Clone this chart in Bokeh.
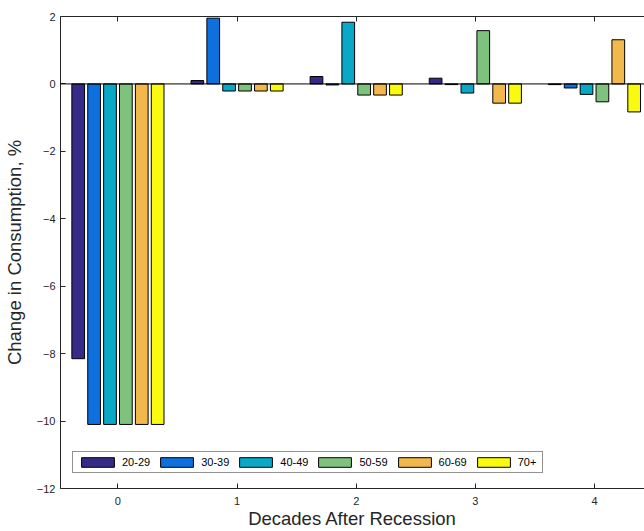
import numpy as np
from bokeh.plotting import figure
from bokeh.models import Range1d, Span, LinearAxis, FixedTicker, Legend
from bokeh.embed import file_html
from bokeh.resources import INLINE

decades = [0, 1, 2, 3, 4]
series_names = ["20-29", "30-39", "40-49", "50-59", "60-69", "70+"]
v_20_29 = [-8.15, 0.10, 0.22, 0.17, -0.02]
v_30_39 = [-10.1, 1.95, -0.03, -0.02, -0.12]
v_40_49 = [-10.1, -0.21, 1.83, -0.27, -0.31]
v_50_59 = [-10.1, -0.21, -0.33, 1.58, -0.53]
v_60_69 = [-10.1, -0.21, -0.33, -0.57, 1.31]
v_70p = [-10.1, -0.21, -0.33, -0.57, -0.83]
yticks = [-12, -10, -8, -6, -4, -2, 0, 2]

values = [v_20_29, v_30_39, v_40_49, v_50_59, v_60_69, v_70p]
colors = ["#352a87", "#0d70de", "#08a8c6", "#7fc27d", "#f2b84b", "#f9fa0f"]

FONT = "Liberation Sans"
AX = "#262626"

p = figure(width=644, height=531, output_backend="svg", toolbar_location=None,
           x_range=Range1d(-0.482, 4.42), y_range=Range1d(-12, 2),
           min_border_left=59, min_border_right=0, min_border_top=16, min_border_bottom=43,
           background_fill_color="white", border_fill_color="white")
p.outline_line_color = None
p.grid.visible = False

n = len(values)
group_w = 0.8
step = group_w / n
bar_w = step * 0.8
xs = np.array(decades, dtype=float)
renderers = []
for i, (vals, col, name) in enumerate(zip(values, colors, series_names)):
    off = (i - (n - 1) / 2) * step
    r = p.vbar(x=xs + off, top=vals, bottom=0, width=bar_w, fill_color=col,
               line_color="black", line_width=1)
    renderers.append((name, [r]))

p.add_layout(Span(location=0, dimension="width", line_color="black", line_width=1))

for ax in [p.xaxis[0], p.yaxis[0]]:
    ax.major_tick_in = 5
    ax.major_tick_out = 0
    ax.minor_tick_in = 0
    ax.minor_tick_out = 0
    ax.axis_line_color = AX
    ax.major_tick_line_color = AX
    ax.major_label_text_font = FONT
    ax.major_label_text_font_size = "11px"
    ax.major_label_text_color = AX
    ax.axis_label_text_font = FONT
    ax.axis_label_text_font_size = "18.5px"
    ax.axis_label_text_font_style = "normal"
    ax.axis_label_text_color = AX

p.xaxis.ticker = FixedTicker(ticks=decades)
p.yaxis.ticker = FixedTicker(ticks=yticks)
p.xaxis.axis_label = "Decades After Recession"
p.yaxis.axis_label = "Change in Consumption, %"
p.xaxis.major_label_standoff = 8
p.xaxis.axis_label_standoff = 0
p.yaxis.major_label_standoff = 5
p.yaxis.axis_label_standoff = 9

top = LinearAxis(ticker=FixedTicker(ticks=decades), major_label_text_font_size="0px",
                 major_tick_in=5, major_tick_out=0, minor_tick_in=0, minor_tick_out=0,
                 axis_line_color=AX, major_tick_line_color=AX, major_label_standoff=0)
top.major_label_overrides = {d: "" for d in decades}
p.add_layout(top, "above")

legend = Legend(items=renderers, orientation="horizontal", location=(12, 15),
                label_text_font=FONT, label_text_font_size="11px", label_text_color="black",
                glyph_width=41, glyph_height=12, label_standoff=4, spacing=6,
                padding=4, margin=0, border_line_color=AX, border_line_width=1,
                background_fill_alpha=1.0, label_height=12)
p.add_layout(legend, "center")

open("out.html", "w").write(file_html(p, INLINE))
